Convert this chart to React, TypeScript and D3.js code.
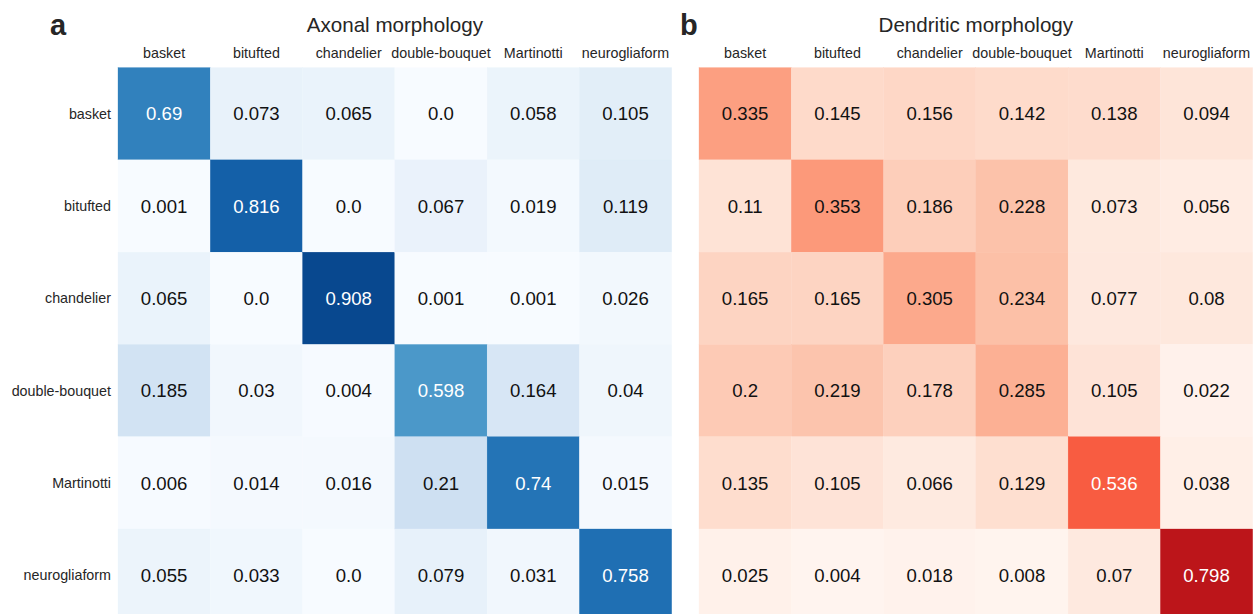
import React from "react";
import * as d3 from "d3";

// Cell types shared by both confusion matrices (rows = true, columns = predicted)
const cellTypes = [
  "basket",
  "bitufted",
  "chandelier",
  "double-bouquet",
  "Martinotti",
  "neurogliaform",
];

const axonalValues: number[][] = [
  [0.69, 0.073, 0.065, 0.0, 0.058, 0.105],
  [0.001, 0.816, 0.0, 0.067, 0.019, 0.119],
  [0.065, 0.0, 0.908, 0.001, 0.001, 0.026],
  [0.185, 0.03, 0.004, 0.598, 0.164, 0.04],
  [0.006, 0.014, 0.016, 0.21, 0.74, 0.015],
  [0.055, 0.033, 0.0, 0.079, 0.031, 0.758],
];

const dendriticValues: number[][] = [
  [0.335, 0.145, 0.156, 0.142, 0.138, 0.094],
  [0.11, 0.353, 0.186, 0.228, 0.073, 0.056],
  [0.165, 0.165, 0.305, 0.234, 0.077, 0.08],
  [0.2, 0.219, 0.178, 0.285, 0.105, 0.022],
  [0.135, 0.105, 0.066, 0.129, 0.536, 0.038],
  [0.025, 0.004, 0.018, 0.008, 0.07, 0.798],
];

// ColorBrewer sequential ramps, interpolated piecewise-linearly
const bluesRamp = [
  "#f7fbff", "#deebf7", "#c6dbef", "#9ecae1", "#6baed6",
  "#4292c6", "#2171b5", "#08519c", "#08306b",
];
const redsRamp = [
  "#fff5f0", "#fee0d2", "#fcbba1", "#fc9272", "#fb6a4a",
  "#ef3b2c", "#cb181d", "#a50f15", "#67000d",
];

const FONT = "'Liberation Sans', Arial, sans-serif";
const DARK = "#262626";
const ANNOT_DARK = "#111111";

function makeColorScale(ramp: string[]) {
  return d3
    .scaleLinear<string>()
    .domain(ramp.map((_, i) => i / (ramp.length - 1)))
    .range(ramp)
    .interpolate(d3.interpolateRgb)
    .clamp(true);
}

function luminance(color: string) {
  const c = d3.rgb(color);
  const lin = (v: number) => {
    const s = v / 255;
    return s <= 0.03928 ? s / 12.92 : Math.pow((s + 0.055) / 1.055, 2.4);
  };
  return 0.2126 * lin(c.r) + 0.7152 * lin(c.g) + 0.0722 * lin(c.b);
}

function formatValue(v: number) {
  return Number.isInteger(v) ? v.toFixed(1) : String(v);
}

type PanelProps = {
  left: number;
  top: number;
  width: number;
  height: number;
  values: number[][];
  ramp: string[];
  title: string;
  letter: string;
  letterX: number;
  showRowLabels: boolean;
};

function Panel({
  left,
  top,
  width,
  height,
  values,
  ramp,
  title,
  letter,
  letterX,
  showRowLabels,
}: PanelProps) {
  const x = d3.scaleBand<string>().domain(cellTypes).range([left, left + width]);
  const y = d3.scaleBand<string>().domain(cellTypes).range([top, top + height]);
  const color = makeColorScale(ramp);

  return (
    <g>
      <text
        x={letterX}
        y={35}
        fontFamily={FONT}
        fontWeight="bold"
        fontSize={29}
        fill={DARK}
      >
        {letter}
      </text>
      <text
        x={left + width / 2}
        y={32}
        textAnchor="middle"
        fontFamily={FONT}
        fontSize={20.6}
        fill={DARK}
      >
        {title}
      </text>
      {cellTypes.map((c) => (
        <text
          key={"col-" + c}
          x={(x(c) as number) + x.bandwidth() / 2}
          y={58}
          textAnchor="middle"
          fontFamily={FONT}
          fontSize={14.3}
          fill={DARK}
        >
          {c}
        </text>
      ))}
      {showRowLabels &&
        cellTypes.map((r) => (
          <text
            key={"row-" + r}
            x={left - 7}
            y={(y(r) as number) + y.bandwidth() / 2}
            dy="0.36em"
            textAnchor="end"
            fontFamily={FONT}
            fontSize={14.3}
            fill={DARK}
          >
            {r}
          </text>
        ))}
      {values.map((row, i) =>
        row.map((v, j) => {
          const fill = color(v);
          const cx = (x(cellTypes[j]) as number) + x.bandwidth() / 2;
          const cy = (y(cellTypes[i]) as number) + y.bandwidth() / 2;
          return (
            <g key={`cell-${i}-${j}`}>
              <rect
                x={x(cellTypes[j])}
                y={y(cellTypes[i])}
                width={x.bandwidth()}
                height={y.bandwidth()}
                fill={fill}
                stroke={fill}
                strokeWidth={0.3}
              />
              <text
                x={cx}
                y={cy}
                dy="0.36em"
                textAnchor="middle"
                fontFamily={FONT}
                fontSize={18.6}
                fill={luminance(fill) > 0.408 ? ANNOT_DARK : "#ffffff"}
              >
                {formatValue(v)}
              </text>
            </g>
          );
        })
      )}
    </g>
  );
}

export default function App() {
  const cell = 92.28;
  const top = 67.6;
  return (
    <svg
      width={1257}
      height={614}
      style={{ position: "absolute", left: 0, top: 0, background: "#ffffff" }}
    >
      <Panel
        left={118}
        top={top}
        width={cell * 6}
        height={cell * 6}
        values={axonalValues}
        ramp={bluesRamp}
        title="Axonal morphology"
        letter="a"
        letterX={50}
        showRowLabels={true}
      />
      <Panel
        left={699}
        top={top}
        width={cell * 6}
        height={cell * 6}
        values={dendriticValues}
        ramp={redsRamp}
        title="Dendritic morphology"
        letter="b"
        letterX={680}
        showRowLabels={false}
      />
    </svg>
  );
}
